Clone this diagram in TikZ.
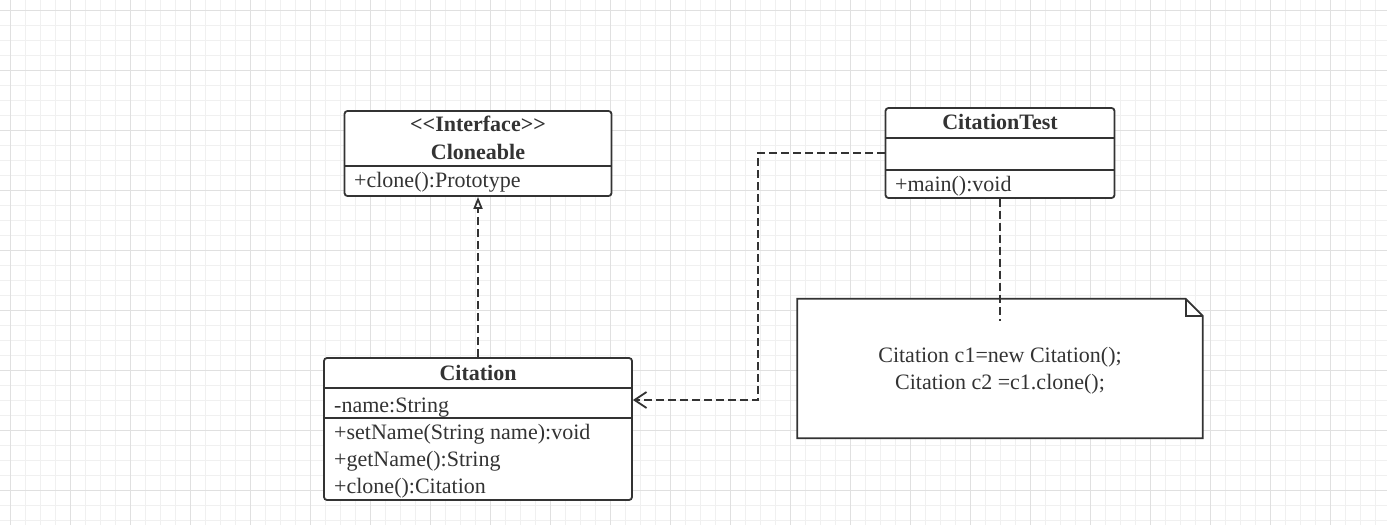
\documentclass[tikz,border=0pt]{standalone}
\usepackage{fontspec}
\setmainfont{Liberation Serif}
\usetikzlibrary{arrows.meta}

\definecolor{umlline}{HTML}{333333}
\definecolor{gridminor}{HTML}{F0F0F0}
\definecolor{gridmajor}{HTML}{E0E0E0}

\tikzset{
  classbox/.style={draw=umlline, line width=1.8pt, fill=white, rounded corners=3pt, inner sep=0pt},
  member/.style={anchor=base west, inner sep=0pt, text=umlline},
  classname/.style={anchor=base, inner sep=0pt, text=umlline, font=\fontsize{22}{27}\selectfont\bfseries},
  umldash/.style={draw=umlline, line width=1.8pt, dash pattern=on 8pt off 4pt},
}

\begin{document}
\begin{tikzpicture}[x=1pt, y=-1pt, font=\fontsize{22}{27}\selectfont]
\useasboundingbox (0,0) rectangle (1387,525);
\fill[white] (0,0) rectangle (1387,525);

% grid
\foreach \g in {10,25,...,1385}
	\draw[gridminor, line width=0.8pt] (\g,0) -- (\g,525);
\foreach \g in {10,25,...,520}
	\draw[gridminor, line width=0.8pt] (0,\g) -- (1387,\g);
\foreach \g in {10,70,...,1385}
	\draw[gridmajor, line width=0.8pt] (\g,0) -- (\g,525);
\foreach \g in {10,70,...,520}
	\draw[gridmajor, line width=0.8pt] (0,\g) -- (1387,\g);

% classes
\node[classbox, minimum width=267pt, minimum height=85pt] (clone) at (478,153.5) {};
\node[classbox, minimum width=308pt, minimum height=142pt] (cit) at (478,429) {};
\node[classbox, minimum width=229pt, minimum height=90pt] (test) at (1000,153) {};

\draw[umlline, line width=1.8pt] (clone.west |- 0,166) -- (clone.east |- 0,166);
\draw[umlline, line width=1.8pt] (cit.west |- 0,388) -- (cit.east |- 0,388);
\draw[umlline, line width=1.8pt] (cit.west |- 0,418) -- (cit.east |- 0,418);
\draw[umlline, line width=1.8pt] (test.west |- 0,138) -- (test.east |- 0,138);
\draw[umlline, line width=1.8pt] (test.west |- 0,170) -- (test.east |- 0,170);

\node[classname] (clonestereo) at (478,131.7) {<\kern0pt<Interface>\kern0pt>};
\node[classname] (clonename) at (478,159) {Cloneable};
\node[member] (clonemeth) at (354,187) {+clone():Prototype};

\node[classname] (citname) at (478,380) {Citation};
\node[member] (citattr) at (334,412.7) {-name:String};
\node[member] (citset) at (334,439) {+setName(String name):void};
\node[member] (citget) at (334,466.7) {+getName():String};
\node[member] (citclone) at (334,493) {+clone():Citation};

\node[classname] (testname) at (1000,129.3) {CitationTest};
\node[member] (testmain) at (895,191) {+main():void};

% note
\node[minimum width=405pt, minimum height=139pt, inner sep=0pt] (note) at (1000,368.5) {};
\draw[umlline, line width=1.8pt, fill=white] (note.north west) -- ([xshift=-17pt]note.north east)
	-- ([yshift=-17pt]note.north east) -- (note.south east) -- (note.south west) -- cycle;
\draw[umlline, line width=1.8pt] ([xshift=-17pt]note.north east) -- ([xshift=-17pt, yshift=-17pt]note.north east)
	-- ([yshift=-17pt]note.north east);
\node[anchor=base, inner sep=0pt, text=umlline] (noteone) at (1000,362.7) {Citation c1=new Citation();};
\node[anchor=base, inner sep=0pt, text=umlline] (notetwo) at (1000,389.3) {Citation c2 =c1.clone();};

% connectors
\draw[umldash, -{Triangle[open, length=12pt, width=9pt]}] (cit.north) -- (clone.south);
\draw[umldash, -{Straight Barb[length=12pt, width=16pt]}] (test.west) -- ++(-127,0) |- ([yshift=29pt]cit.east);
\coordinate (notelink) at (1000,321);
\draw[umldash] (test.south) -- (notelink);

\end{tikzpicture}
\end{document}
